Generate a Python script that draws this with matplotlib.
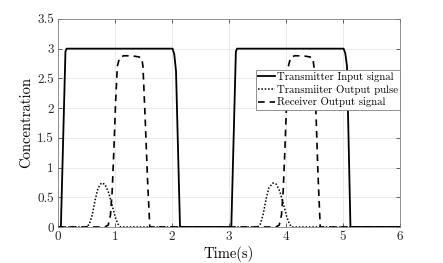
import matplotlib
matplotlib.use("Agg")
import matplotlib.pyplot as plt

plt.rcParams['font.family'] = 'serif'
plt.rcParams['font.serif'] = ['cmr10']
plt.rcParams['mathtext.fontset'] = 'cm'
plt.rcParams['axes.formatter.use_mathtext'] = True

# Transmitter input signal (solid)
tin_t = [0, 0.05, 0.13, 0.15, 2.01, 2.04, 2.07, 2.14, 3.04, 3.12, 3.14, 5.01, 5.04, 5.07, 5.13, 6]
tin_v = [0, 0, 2.95, 3.0, 3.0, 2.9, 2.62, 0, 0, 2.95, 3.0, 3.0, 2.92, 2.7, 0, 0]

# Transmitter output pulse (dotted)
tout_t = [0, 0.5, 0.55, 0.6, 0.65, 0.7, 0.76, 0.82, 0.88, 0.94, 1.0, 1.05, 1.1,
          3.5, 3.55, 3.6, 3.65, 3.7, 3.77, 3.83, 3.89, 3.95, 4.01, 4.06, 4.1, 6]
tout_v = [0, 0, 0.05, 0.2, 0.45, 0.65, 0.74, 0.72, 0.6, 0.4, 0.18, 0.05, 0,
          0, 0.05, 0.22, 0.47, 0.66, 0.74, 0.72, 0.6, 0.4, 0.18, 0.05, 0, 0]

# Receiver output signal (dashed)
rx_t = [0, 0.82, 0.88, 0.92, 0.95, 0.98, 1.01, 1.04, 1.08, 1.15, 1.3, 1.42, 1.47, 1.49, 1.53, 1.57, 1.61,
        3.82, 3.88, 3.92, 3.95, 3.98, 4.01, 4.04, 4.08, 4.15, 4.3, 4.42, 4.47, 4.49, 4.53, 4.56, 4.6, 6]
rx_v = [0, 0, 0.03, 0.2, 0.6, 1.3, 2.1, 2.7, 2.85, 2.88, 2.88, 2.86, 2.84, 2.7, 1.8, 0.8, 0,
        0, 0.03, 0.2, 0.6, 1.3, 2.1, 2.7, 2.85, 2.88, 2.88, 2.86, 2.84, 2.7, 1.8, 0.9, 0, 0]

labels = ['Transmitter Input signal', 'Transmiiter Output pulse', 'Receiver Output signal']
xticks = [0, 1, 2, 3, 4, 5, 6]
yticks = [0, 0.5, 1, 1.5, 2, 2.5, 3, 3.5]
ytick_labels = ['0', '0.5', '1', '1.5', '2', '2.5', '3', '3.5']

fig = plt.figure(figsize=(4.43, 2.63), dpi=100)
ax = fig.add_axes([0.131, 0.137, 0.772, 0.791])

ax.plot(tin_t, tin_v, color='black', lw=1.3, linestyle='-', label=labels[0])
ax.plot(tout_t, tout_v, color='black', lw=1.1, linestyle=(0, (1, 1.2)), label=labels[1])
ax.plot(rx_t, rx_v, color='black', lw=1.2, linestyle=(0, (4, 3)), label=labels[2])

ax.set_xlim(0, 6)
ax.set_ylim(0, 3.5)
ax.set_xticks(xticks)
ax.set_xticklabels([str(v) for v in xticks])
ax.set_yticks(yticks)
ax.set_yticklabels(ytick_labels)
ax.grid(True, color='#e6e6e6', lw=0.6)
ax.set_axisbelow(True)
ax.tick_params(direction='in', top=True, right=True, length=3, width=0.5,
               colors='#262626', labelsize=9.5, pad=3)
for s in ax.spines.values():
    s.set_color('#808080')
    s.set_linewidth(0.6)
ax.set_xlabel('Time(s)', fontsize=10.5)
ax.set_ylabel('Concentration', fontsize=10.5)
ax.xaxis.set_label_coords(0.5, -0.093)
ax.yaxis.set_label_coords(-0.072, 0.502)

leg = ax.legend(loc='upper right', bbox_to_anchor=(1.0, 0.755), fontsize=7.8,
                frameon=True, fancybox=False, edgecolor='#808080', framealpha=1,
                handlelength=1.55, handletextpad=0.15, labelspacing=0.25,
                borderpad=0.2, borderaxespad=0)
leg.get_frame().set_linewidth(0.6)

fig.savefig('out.png', dpi=100)
